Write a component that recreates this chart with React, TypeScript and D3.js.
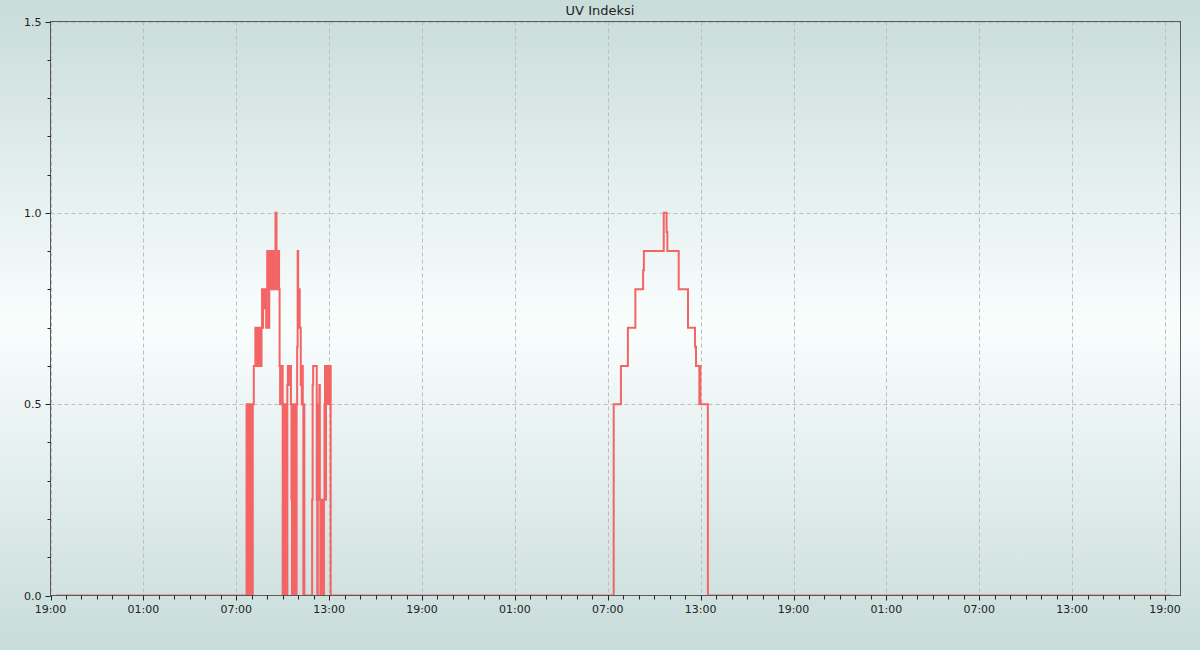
import React from "react";
import * as d3 from "d3";

// ---- Data ----
const seriesStart = "19:22"; // day 0
const seriesEnd = "19:22"; // day 3

const day1Times = [
  "07:40", "07:42", "07:44", "07:46", "07:48", "07:50", "07:52", "07:54", "07:56", "07:58",
  "08:00", "08:02", "08:04", "08:08", "08:14", "08:16", "08:18", "08:20", "08:22", "08:24",
  "08:26", "08:28", "08:30", "08:32", "08:34", "08:36", "08:38", "08:40", "08:42", "08:44",
  "08:50", "08:52", "08:56", "08:58", "09:00", "09:02", "09:04", "09:06", "09:08", "09:10",
  "09:12", "09:14", "09:16", "09:18", "09:20", "09:22", "09:24", "09:26", "09:28", "09:30",
  "09:32", "09:36", "09:38", "09:40", "09:42", "09:44", "09:46", "09:48", "09:50", "09:52",
  "09:56", "10:00", "10:02", "10:04", "10:06", "10:08", "10:10", "10:12", "10:14", "10:16",
  "10:18", "10:20", "10:22", "10:24", "10:26", "10:28", "10:32", "10:34", "10:36", "10:38",
  "10:40", "10:42", "10:44", "10:46", "10:48", "10:50", "10:52", "10:54", "10:56", "10:58",
  "11:00", "11:02", "11:04", "11:06", "11:08", "11:10", "11:12", "11:14", "11:16", "11:18",
  "11:20", "11:22", "11:24", "11:54", "11:56", "11:58", "12:12", "12:14", "12:16", "12:18",
  "12:20", "12:22", "12:24", "12:26", "12:28", "12:30", "12:32", "12:34", "12:36", "12:38",
  "12:40", "12:42", "12:44", "12:46", "12:48", "12:50", "12:52", "12:54", "12:56", "12:58",
  "13:00", "13:02", "13:04", "13:06",
];
const day1Values = [
  0.5, 0, 0.5, 0, 0.5, 0, 0.5, 0, 0.5, 0,
  0.5, 0, 0.5, 0.6, 0.7, 0.6, 0.7, 0.6, 0.7, 0.6,
  0.7, 0.6, 0.7, 0.6, 0.7, 0.6, 0.7, 0.8, 0.7, 0.8,
  0.75, 0.8, 0.7, 0.8, 0.9, 0.8, 0.9, 0.7, 0.8, 0.9,
  0.8, 0.9, 0.8, 0.9, 0.8, 0.9, 0.8, 0.9, 0.8, 0.9,
  1.0, 0.9, 0.8, 0.9, 0.8, 0.9, 0.8, 0.6, 0.5, 0.6,
  0.6, 0, 0.5, 0, 0.5, 0, 0.5, 0, 0.5, 0,
  0.55, 0.6, 0.55, 0.6, 0.55, 0.6, 0.5, 0.25, 0, 0.5,
  0, 0.5, 0, 0.5, 0, 0.5, 0, 0.5, 0.65, 0.9,
  0.8, 0.7, 0.8, 0.7, 0.7, 0.55, 0.6, 0.5, 0.6, 0.5,
  0, 0.5, 0, 0.25, 0.55, 0.6, 0.25, 0, 0.25, 0.5,
  0.25, 0.55, 0.25, 0, 0.25, 0, 0.25, 0, 0.25, 0,
  0.25, 0.5, 0.6, 0.25, 0.6, 0.5, 0.6, 0.5, 0.6, 0.5,
  0.6, 0.5, 0.6, 0,
];

const day2Times = [
  "07:23", "07:51", "08:18", "08:47", "09:17", "09:20", "10:37", "10:48", "10:51", "11:35",
  "12:11", "12:38", "12:42", "12:55", "12:57", "12:59", "13:28",
];
const day2Values = [
  0.5, 0.6, 0.7, 0.8, 0.85, 0.9, 1.0, 0.95, 0.9, 0.8,
  0.7, 0.65, 0.6, 0.5, 0.6, 0.5, 0,
];

const yTickValues = [0, 0.5, 1.0, 1.5];
const titleText = "UV Indeksi";

// ---- Helpers ----
const base = new Date(2023, 5, 10, 0, 0, 0);
function at(dayOffset: number, hhmm: string): Date {
  const [h, m] = hhmm.split(":").map(Number);
  return new Date(base.getFullYear(), base.getMonth(), base.getDate() + dayOffset, h, m, 0);
}

type Pt = { t: Date; v: number };
const data: Pt[] = [
  { t: at(0, seriesStart), v: 0 },
  ...day1Times.map((s, i) => ({ t: at(1, s), v: day1Values[i] })),
  ...day2Times.map((s, i) => ({ t: at(2, s), v: day2Values[i] })),
  { t: at(3, seriesEnd), v: 0 },
];

const W = 1200;
const H = 650;
const left = 50.5;
const right = 1180.5;
const top = 21.5;
const bottom = 595.5;

export default function App() {
  const xStart = at(0, "19:00");
  const xEnd = at(3, "20:00");
  const x = d3.scaleTime().domain([xStart, xEnd]).range([left, right]);
  const y = d3.scaleLinear().domain([0, 1.5]).range([bottom, top]);

  const majorX = d3.timeHour.range(xStart, xEnd, 6);
  const allHours = d3.timeHour.range(xStart, xEnd, 1);
  const majorSet = new Set(majorX.map((d) => +d));
  const minorX = allHours.filter((d) => !majorSet.has(+d));
  const fmt = d3.timeFormat("%H:%M");

  const minorY = d3.range(1, 15).map((i) => i / 10).filter((v) => Math.abs(v * 2 - Math.round(v * 2)) > 1e-6);

  const line = d3
    .line<Pt>()
    .x((d) => x(d.t))
    .y((d) => y(d.v))
    .curve(d3.curveStepAfter);

  const font = "DejaVu Sans, sans-serif";

  return (
    <svg
      width={W}
      height={H}
      style={{ position: "absolute", left: 0, top: 0, display: "block" }}
      fontFamily={font}
    >
      <defs>
        <linearGradient id="bg" x1="0" y1="0" x2="0" y2="1">
          <stop offset="0%" stopColor="#c8dcda" />
          <stop offset="50%" stopColor="#f9fefd" />
          <stop offset="100%" stopColor="#c8dcda" />
        </linearGradient>
        <clipPath id="plot">
          <rect x={left} y={top} width={right - left} height={bottom - top} />
        </clipPath>
      </defs>
      <rect x={0} y={0} width={W} height={H} fill="url(#bg)" />

      {/* grid */}
      {majorX.map((d, i) => (
        <line
          key={"gx" + i}
          x1={Math.round(x(d)) + 0.5}
          x2={Math.round(x(d)) + 0.5}
          y1={top}
          y2={bottom}
          stroke="#bdbdbd"
          strokeDasharray="4,3"
        />
      ))}
      {yTickValues.slice(1).map((v, i) => (
        <line
          key={"gy" + i}
          x1={left}
          x2={right}
          y1={Math.round(y(v)) + 0.5}
          y2={Math.round(y(v)) + 0.5}
          stroke="#bdbdbd"
          strokeDasharray="4,3"
        />
      ))}

      {/* data */}
      <path
        d={line(data) || ""}
        fill="none"
        stroke="#f46464"
        strokeWidth={2}
        clipPath="url(#plot)"
      />

      {/* frame */}
      <rect
        x={left}
        y={top}
        width={right - left}
        height={bottom - top}
        fill="none"
        stroke="#5a5a5a"
        strokeWidth={1}
      />

      {/* x ticks */}
      {majorX.map((d, i) => (
        <g key={"xt" + i}>
          <line
            x1={Math.round(x(d)) + 0.5}
            x2={Math.round(x(d)) + 0.5}
            y1={bottom}
            y2={bottom + 5}
            stroke="#222"
          />
          <text
            x={x(d)}
            y={bottom + 17}
            textAnchor="middle"
            fontSize={11}
            fill="#222"
          >
            {fmt(d)}
          </text>
        </g>
      ))}
      {minorX.map((d, i) => (
        <line
          key={"xm" + i}
          x1={Math.round(x(d)) + 0.5}
          x2={Math.round(x(d)) + 0.5}
          y1={bottom}
          y2={bottom + 4}
          stroke="#222"
        />
      ))}

      {/* y ticks */}
      {yTickValues.map((v, i) => (
        <g key={"yt" + i}>
          <line
            x1={left - 5}
            x2={left}
            y1={Math.round(y(v)) + 0.5}
            y2={Math.round(y(v)) + 0.5}
            stroke="#222"
          />
          <text
            x={left - 9}
            y={y(v) + 4}
            textAnchor="end"
            fontSize={11}
            fill="#222"
          >
            {d3.format(".1f")(v)}
          </text>
        </g>
      ))}
      {minorY.map((v, i) => (
        <line
          key={"ym" + i}
          x1={left - 3}
          x2={left}
          y1={Math.round(y(v)) + 0.5}
          y2={Math.round(y(v)) + 0.5}
          stroke="#222"
        />
      ))}

      {/* title */}
      <text x={W / 2} y={15} textAnchor="middle" fontSize={13} fill="#222">
        {titleText}
      </text>
    </svg>
  );
}
